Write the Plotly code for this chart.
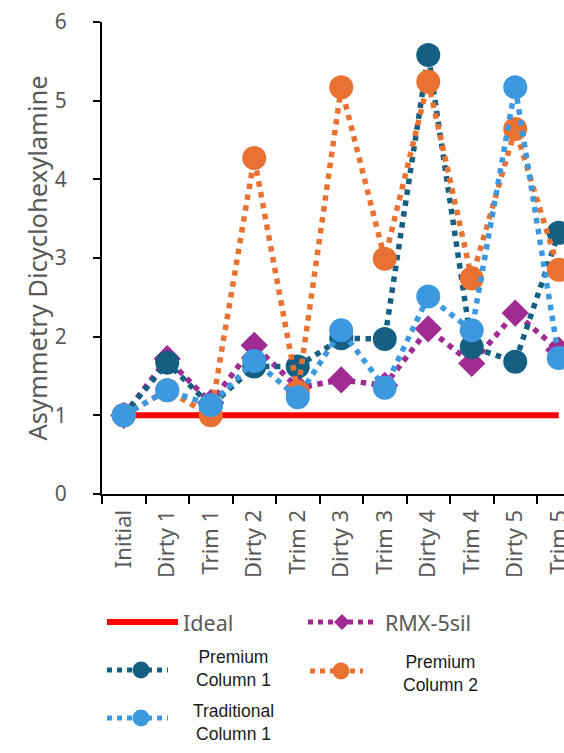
import plotly.graph_objects as go

# ---- data -------------------------------------------------------------
categories = ["Initial", "Dirty 1", "Trim 1", "Dirty 2", "Trim 2", "Dirty 3",
              "Trim 3", "Dirty 4", "Trim 4", "Dirty 5", "Trim 5"]
ideal = [1, 1, 1, 1, 1, 1, 1, 1, 1, 1, 1]
rmx_5sil = [1.00, 1.72, 1.16, 1.89, 1.35, 1.45, 1.38, 2.10, 1.66, 2.30, 1.83]
premium_col1 = [1.00, 1.67, 1.12, 1.62, 1.62, 1.98, 1.97, 5.58, 1.87, 1.68, 3.32]
premium_col2 = [1.00, 1.32, 1.00, 4.27, 1.30, 5.17, 2.99, 5.24, 2.74, 4.64, 2.85]
traditional_col1 = [1.00, 1.32, 1.13, 1.69, 1.23, 2.08, 1.35, 2.51, 2.08, 5.17, 1.73]

y_ticks = [0, 1, 2, 3, 4, 5, 6]

# ---- styling ------------------------------------------------------------
RED = "#FF0000"
PURPLE = "#A02B93"
DARK_BLUE = "#156082"
ORANGE = "#E97132"
LIGHT_BLUE = "#3D99DF"
GREY = "#595959"
FONT = "Noto Sans"
LEGEND_FONT = "Liberation Sans"

W, H = 564, 753
L, R, T, B = 102, 0, 22, 259
plot_w = W - L - R
plot_h = H - T - B
cat_w = 43.5

fig = go.Figure()

fig.add_trace(go.Scatter(x=categories, y=ideal, mode="lines", name="Ideal",
                         line=dict(color=RED, width=6)))

series = [
    ("RMX-5sil", rmx_5sil, PURPLE, "diamond", 21),
    ("Premium Column 1", premium_col1, DARK_BLUE, "circle", 24),
    ("Premium Column 2", premium_col2, ORANGE, "circle", 24),
    ("Traditional Column 1", traditional_col1, LIGHT_BLUE, "circle", 24),
]
for name, vals, color, sym, size in series:
    fig.add_trace(go.Scatter(
        x=categories, y=vals, mode="lines+markers", name=name,
        line=dict(color=color, width=5.5, dash="dot"),
        marker=dict(symbol=sym, size=size, color=color, line=dict(width=0)),
    ))

# ---- legend drawn below the axes ------------------------------------
def px(xp):
    return (xp - L) / plot_w


def py(yp):
    return (H - B - yp) / plot_h


shapes = []
annotations = []


def legend_line(x0, x1, y, color, width, dash):
    shapes.append(dict(type="line", xref="paper", yref="paper",
                       x0=px(x0), x1=px(x1), y0=py(y), y1=py(y),
                       line=dict(color=color, width=width, dash=dash)))


def legend_circle(cx, cy, r, color):
    shapes.append(dict(type="circle", xref="paper", yref="paper",
                       xsizemode="pixel", ysizemode="pixel",
                       xanchor=px(cx), yanchor=py(cy),
                       x0=-r, x1=r, y0=-r, y1=r,
                       fillcolor=color, line=dict(width=0)))


def legend_diamond(cx, cy, r, color):
    shapes.append(dict(type="path", xref="paper", yref="paper",
                       xsizemode="pixel", ysizemode="pixel",
                       xanchor=px(cx), yanchor=py(cy),
                       path=f"M{-r},0 L0,{r} L{r},0 L0,{-r} Z",
                       fillcolor=color, line=dict(width=0)))


def legend_text(x, y, text, size, color, anchor="left", family=FONT):
    annotations.append(dict(x=px(x), y=py(y), xref="paper", yref="paper",
                            text=text, showarrow=False, xanchor=anchor,
                            yanchor="middle", align="center",
                            font=dict(size=size, color=color, family=family)))


legend_line(107, 178, 622, RED, 6, "solid")
legend_text(181, 622, "Ideal", 21.5, GREY)

legend_line(308, 375, 622, PURPLE, 5, "dot")
legend_diamond(342, 622, 8, PURPLE)
legend_text(383, 622, "RMX-5sil", 21.5, GREY)

legend_line(107, 168, 670, DARK_BLUE, 5, "dot")
legend_circle(141, 670, 8.5, DARK_BLUE)
legend_text(233, 668, "Premium<br>Column 1", 17.5, "#1a1a1a", "center", LEGEND_FONT)

legend_line(310, 363, 671, ORANGE, 5, "dot")
legend_circle(341, 671, 8.5, ORANGE)
legend_text(440, 673, "Premium<br>Column 2", 17.5, "#1a1a1a", "center", LEGEND_FONT)

legend_line(107, 168, 718, LIGHT_BLUE, 5, "dot")
legend_circle(141, 718, 8.5, LIGHT_BLUE)
legend_text(233, 722, "Traditional<br>Column 1", 17.5, "#1a1a1a", "center", LEGEND_FONT)

n_visible = plot_w / cat_w

fig.update_layout(
    width=W, height=H,
    margin=dict(l=L, r=R, t=T, b=B, pad=0, autoexpand=False),
    paper_bgcolor="white", plot_bgcolor="white",
    showlegend=False,
    font=dict(family=FONT, color=GREY),
    shapes=shapes, annotations=annotations,
    xaxis=dict(
        type="category", range=[-0.5, -0.5 + n_visible], automargin=False,
        showgrid=False, zeroline=False,
        showline=True, linecolor="black", linewidth=2,
        ticks="outside", ticklen=8, tickwidth=2, tickcolor="black",
        tickson="boundaries", tickangle=-90, ticklabelstandoff=5,
        tickfont=dict(size=22, color=GREY, family=FONT),
    ),
    yaxis=dict(
        range=[0, 6], tickvals=y_ticks, automargin=False,
        showgrid=False, zeroline=False,
        showline=True, linecolor="black", linewidth=2,
        ticks="outside", ticklen=7, tickwidth=2, tickcolor="black",
        ticklabelstandoff=22,
        tickfont=dict(size=21, color=GREY, family=FONT),
        title=dict(text="Asymmetry Dicyclohexylamine", standoff=0,
                   font=dict(size=25.5, color=GREY, family=FONT)),
    ),
)

fig.write_html("out.html")
